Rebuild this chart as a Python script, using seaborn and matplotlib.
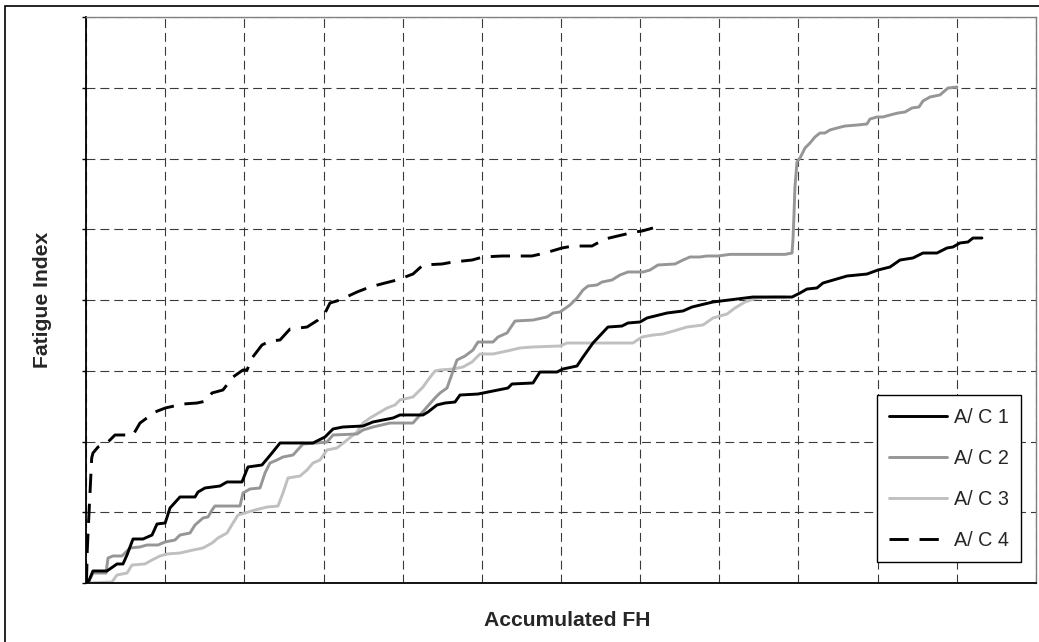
import matplotlib
matplotlib.use("Agg")
import matplotlib.pyplot as plt
from matplotlib.patches import Rectangle
import seaborn as sns

# Accumulated flight hours (grid units) and fatigue index for each aircraft
series_names = ["A/ C 1", "A/ C 2", "A/ C 3", "A/ C 4"]

ac1_fh = [0.025, 0.088, 0.265, 0.392, 0.467, 0.518, 0.594, 0.720, 0.834, 0.897, 1.000, 1.061,
          1.187, 1.377, 1.415, 1.503, 1.693, 1.781, 1.970, 2.046, 2.223, 2.349, 2.451, 2.867,
          3.019, 3.120, 3.246, 3.499, 3.625, 3.878, 3.966, 4.257, 4.320, 4.433, 4.535, 4.661,
          4.724, 4.951, 5.330, 5.381, 5.646, 5.734, 5.949, 6.025, 6.202, 6.278, 6.404, 6.593,
          6.770, 6.846, 6.998, 7.086, 7.339, 7.541, 7.655, 7.920, 8.223, 8.425, 8.918, 9.019,
          9.107, 9.233, 9.309, 9.612, 9.865, 10.004, 10.156, 10.282, 10.446, 10.572, 10.749,
          10.875, 10.951, 11.040, 11.141, 11.204, 11.317]
ac1_fi = [0.000, 0.170, 0.170, 0.269, 0.269, 0.396, 0.622, 0.622, 0.678, 0.834, 0.848, 1.060,
          1.216, 1.216, 1.286, 1.343, 1.371, 1.428, 1.428, 1.640, 1.668, 1.837, 1.979, 1.979,
          2.064, 2.177, 2.205, 2.219, 2.276, 2.332, 2.375, 2.375, 2.417, 2.516, 2.544, 2.558,
          2.657, 2.671, 2.756, 2.813, 2.827, 2.982, 2.982, 3.025, 3.067, 3.194, 3.392, 3.618,
          3.632, 3.675, 3.689, 3.746, 3.816, 3.845, 3.901, 3.972, 4.014, 4.042, 4.042, 4.099,
          4.155, 4.170, 4.240, 4.339, 4.367, 4.424, 4.466, 4.565, 4.594, 4.664, 4.664,
          4.735, 4.749, 4.806, 4.820, 4.876, 4.876]

ac2_fh = [0.025, 0.088, 0.253, 0.278, 0.341, 0.455, 0.556, 0.682, 0.770, 0.909, 1.000, 1.124,
          1.187, 1.314, 1.377, 1.478, 1.541, 1.592, 1.629, 1.945, 1.983, 2.072, 2.198, 2.261,
          2.324, 2.413, 2.488, 2.615, 2.741, 2.918, 3.044, 3.120, 3.423, 3.499, 3.625, 3.840,
          4.130, 4.219, 4.307, 4.408, 4.472, 4.560, 4.686, 4.787, 4.888, 4.951, 5.141, 5.204,
          5.318, 5.419, 5.646, 5.823, 5.899, 5.987, 6.113, 6.202, 6.278, 6.341, 6.454, 6.518,
          6.644, 6.745, 6.846, 7.036, 7.124, 7.225, 7.440, 7.541, 7.629, 7.755, 7.844, 7.983,
          8.134, 8.829, 8.918, 8.930, 8.943, 8.955, 8.981, 9.019, 9.082, 9.145, 9.208, 9.271,
          9.334, 9.398, 9.486, 9.587, 9.739, 9.865, 9.903, 9.991, 10.067, 10.156, 10.257,
          10.345, 10.433, 10.522, 10.572, 10.661, 10.787, 10.888, 11.002]
ac2_fi = [0.000, 0.141, 0.141, 0.353, 0.382, 0.382, 0.495, 0.509, 0.537, 0.537, 0.580, 0.608,
          0.678, 0.707, 0.820, 0.919, 0.933, 1.032, 1.088, 1.088, 1.272, 1.329, 1.343, 1.555,
          1.696, 1.739, 1.781, 1.809, 1.965, 1.979, 1.993, 2.092, 2.106, 2.163, 2.205, 2.261,
          2.261, 2.375, 2.488, 2.615, 2.686, 2.756, 3.152, 3.208, 3.293, 3.406, 3.406, 3.477,
          3.534, 3.703, 3.717, 3.760, 3.816, 3.830, 3.929, 4.028, 4.141, 4.198, 4.212, 4.254,
          4.283, 4.353, 4.396, 4.396, 4.424, 4.495, 4.509, 4.565, 4.608, 4.608, 4.622, 4.622,
          4.645, 4.645, 4.664, 4.848, 5.201, 5.597, 5.951, 6.007, 6.148, 6.219, 6.304, 6.360,
          6.360, 6.403, 6.431, 6.459, 6.473, 6.488, 6.558, 6.587, 6.587, 6.615, 6.643,
          6.657, 6.714, 6.728, 6.813, 6.869, 6.898, 6.996, 7.011]

ac3_fh = [0.013, 0.328, 0.392, 0.518, 0.581, 0.745, 0.834, 0.935, 1.023, 1.187, 1.352, 1.478,
          1.592, 1.667, 1.781, 1.857, 1.920, 2.008, 2.135, 2.286, 2.425, 2.488, 2.551, 2.703,
          2.792, 2.867, 2.956, 3.044, 3.170, 3.297, 3.423, 3.499, 3.587, 3.802, 3.903, 3.966,
          4.130, 4.257, 4.320, 4.408, 4.472, 4.636, 4.762, 4.876, 4.977, 5.141, 5.318, 5.482,
          5.646, 5.987, 6.075, 6.909, 7.023, 7.162, 7.288, 7.465, 7.591, 7.794, 7.920, 8.097,
          8.198, 8.324, 8.475, 8.678, 8.829]
ac3_fi = [0.000, 0.014, 0.113, 0.141, 0.254, 0.269, 0.325, 0.382, 0.410, 0.424, 0.466, 0.495,
          0.565, 0.636, 0.707, 0.848, 0.961, 0.989, 1.032, 1.074, 1.088, 1.272, 1.484, 1.512,
          1.597, 1.696, 1.739, 1.880, 1.908, 2.021, 2.134, 2.261, 2.332, 2.473, 2.516, 2.587,
          2.629, 2.770, 2.869, 2.996, 3.011, 3.025, 3.053, 3.124, 3.237, 3.237, 3.279, 3.322,
          3.336, 3.350, 3.392, 3.392, 3.477, 3.505, 3.519, 3.576, 3.618, 3.647, 3.746, 3.802,
          3.887, 3.972, 4.028, 4.042, 4.042]

ac4_fh = [0.006, 0.016, 0.038, 0.072, 0.088, 0.152, 0.265, 0.366, 0.594, 0.682, 0.872, 1.000,
          1.225, 1.402, 1.516, 1.592, 1.730, 1.857, 1.983, 2.034, 2.097, 2.223, 2.324, 2.451,
          2.577, 2.792, 2.931, 3.019, 3.082, 3.208, 3.423, 3.587, 3.777, 3.928, 4.130, 4.257,
          4.497, 4.636, 4.876, 5.015, 5.255, 5.633, 5.798, 6.012, 6.151, 6.391, 6.555, 6.770,
          6.934, 7.023, 7.162]
ac4_fi = [0.000, 0.466, 0.989, 1.767, 1.837, 1.922, 1.979, 2.092, 2.092, 2.261, 2.417, 2.473,
          2.530, 2.544, 2.572, 2.686, 2.728, 2.912, 3.011, 3.011, 3.180, 3.364, 3.420, 3.435,
          3.590, 3.618, 3.717, 3.816, 3.958, 4.000, 4.113, 4.184, 4.240, 4.283, 4.367, 4.495,
          4.509, 4.537, 4.565, 4.608, 4.622, 4.622, 4.664, 4.735, 4.763, 4.763, 4.862, 4.919,
          4.961, 4.975, 5.018]

sns.set_style("white")
plt.rcParams["font.family"] = ["Liberation Sans", "DejaVu Sans"]

W, H = 1039, 642
fig = plt.figure(figsize=(W / 100, H / 100), dpi=100)
ax = fig.add_axes([86 / W, 59 / H, 950 / W, 566 / H])

# name, x, y, colour, linestyle, draw order
styles = [
    (series_names[2], ac3_fh, ac3_fi, "#c0c0c0", "-", 2),
    (series_names[1], ac2_fh, ac2_fi, "#969696", "-", 3),
    (series_names[0], ac1_fh, ac1_fi, "#000000", "-", 4),
    (series_names[3], ac4_fh, ac4_fi, "#000000", (0, (6.6, 3.7)), 5),
]
for name, xs, ys, col, ls, z in styles:
    sns.lineplot(x=xs, y=ys, ax=ax, color=col, linestyle=ls, linewidth=2.1,
                 sort=False, estimator=None, label=name, zorder=z)

ax.set_xlim(0, 12)
ax.set_ylim(0, 8)
ax.set_xticks(range(0, 13))
ax.set_yticks(range(0, 9))
ax.tick_params(axis="x", bottom=False, labelbottom=False)
ax.tick_params(axis="y", left=True, direction="out", length=3, width=1,
               color="black", labelleft=False)
ax.grid(True, color="#3a3a3a", linestyle=(0, (8, 4.5)), linewidth=0.8)

for side in ("left", "bottom"):
    ax.spines[side].set_color("black")
    ax.spines[side].set_linewidth(1.3)
for side in ("top", "right"):
    ax.spines[side].set_color("#808080")
    ax.spines[side].set_linewidth(1.0)

ax.set_xlabel("Accumulated FH", fontsize=15.2, fontweight="bold")
ax.xaxis.label.set_va("center")
ax.xaxis.set_label_coords((567 - 86) / 950, (583 - 620) / 566)
ax.set_ylabel("Fatigue Index", fontsize=15.2, fontweight="bold")
ax.yaxis.label.set_va("center")
ax.yaxis.set_label_coords((42.5 - 86) / 950, 0.5)

handles, labels = ax.get_legend_handles_labels()
order = [labels.index(n) for n in series_names]
leg = ax.legend([handles[i] for i in order], [labels[i] for i in order],
                loc="lower right", bbox_to_anchor=((1021 - 86) / 950, (583 - 562) / 566),
                borderaxespad=0, frameon=True, fancybox=False, framealpha=1,
                edgecolor="black", fontsize=14.2, handlelength=2.9, handletextpad=0.36,
                labelspacing=1.12, borderpad=0.62)
leg.get_frame().set_linewidth(1.0)

# chart-area frame running off the right and bottom edges
fig.add_artist(Rectangle((5 / W, -0.1), 1.2, 1 - 6 / H + 0.1, transform=fig.transFigure,
                         fill=False, edgecolor="black", linewidth=1.2))

fig.savefig("out.png", dpi=100)
